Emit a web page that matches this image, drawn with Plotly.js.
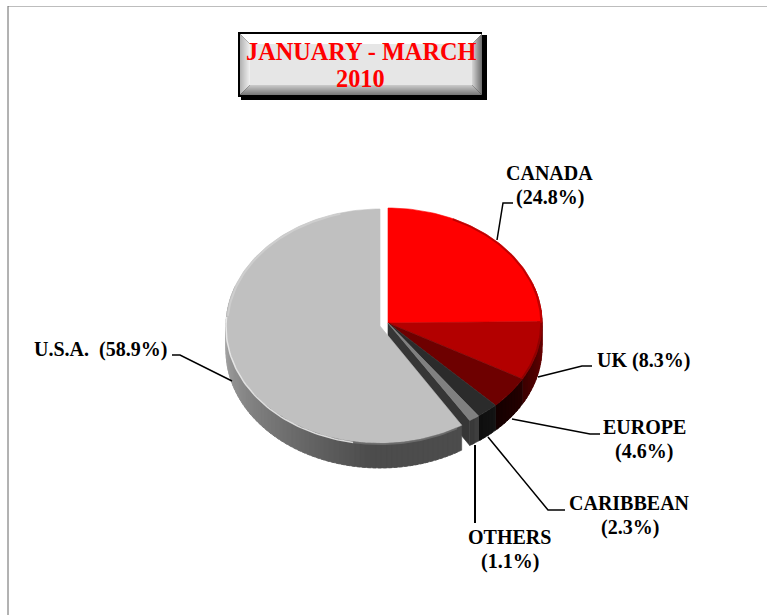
<!DOCTYPE html>
<html><head><meta charset="utf-8">
<script src="https://cdn.plot.ly/plotly-3.0.1.min.js"></script>
<style>html,body{margin:0;padding:0;background:#fff}#c{width:767px;height:615px}</style>
</head><body><div id="c"></div>
<script>
var categories = ["CANADA","UK","EUROPE","CARIBBEAN","OTHERS","U.S.A."];
var shares = [24.8,8.3,4.6,2.3,1.1,58.9];
var topColors = ["#ff0000","#b30000","#6e0000","#2b2b2b","#808080","#c0c0c0"];
var wallLight = ["#b00000","#700000","#260000","#141414","#404040","#b8b8b8"];
var wallDark = ["#6a0000","#3c0000","#140000","#0e0e0e","#363636","#4c4c4c"];
var labelTexts = ["CANADA<br>(24.8%)","UK (8.3%)","EUROPE<br>(4.6%)","CARIBBEAN<br>(2.3%)","OTHERS<br>(1.1%)","U.S.A.  (58.9%)"];
var titleText = "JANUARY - MARCH<br>2010";

var cx=388, cy=323, rx=154, ry=115, usaRy=117, depth=25, usaDx=-8, usaDy=3;
function pt(a,ox,oy,dz,s){s=s||1;var r=a*Math.PI/180,h=ox?usaRy:ry;return [cx+ox+s*rx*Math.sin(r), cy+oy-s*h*Math.cos(r)+dz];}
function hex(c){return [1,3,5].map(function(i){return parseInt(c.substr(i,2),16);});}
function mix(a,b,t){var A=hex(a),B=hex(b);return "rgb("+A.map(function(v,i){return Math.round(v+(B[i]-v)*t);}).join(",")+")";}
function poly(pts,color){return {type:"scatter",mode:"lines",x:pts.map(function(p){return p[0];}).concat(pts[0][0]),y:pts.map(function(p){return p[1];}).concat(pts[0][1]),fill:"toself",fillcolor:color,line:{color:color,width:0.6},hoverinfo:"skip",showlegend:false};}
function arc(a0,a1,ox,oy,dz,s){var n=Math.max(2,Math.ceil(Math.abs(a1-a0)/1.5)),o=[];for(var i=0;i<=n;i++)o.push(pt(a0+(a1-a0)*i/n,ox,oy,dz,s));return o;}
function curve(a0,a1,ox,oy,dz,s,color,w){var p=arc(a0,a1,ox,oy,dz,s);return {type:"scatter",mode:"lines",x:p.map(function(q){return q[0];}),y:p.map(function(q){return q[1];}),line:{color:color,width:w},hoverinfo:"skip",showlegend:false};}

var traces=[], ang=0, spans=[];
shares.forEach(function(v){var a=v/100*360;spans.push([ang,ang+a]);ang+=a;});
function offs(i){return i==5?[usaDx,usaDy]:[0,0];}
// side walls
[0,1,2,3,4,5].forEach(function(i){
  var o=offs(i),a0=i==0?70:spans[i][0],a1=i==5?290:spans[i][1];
  if(i==4){
    var p=pt(spans[i][1],0,0,0);
    traces.push(poly([[cx,cy],p,[p[0],p[1]+depth],[cx,cy+depth]],wallDark[i]));
  }
  var strips=Math.max(1,Math.ceil((a1-a0)/2));
  for(var k=0;k<strips;k++){
    var b0=a0+(a1-a0)*k/strips,b1=a1-(a1-a0)*(strips-k-1)/strips;
    if(k<strips-1)b1+=(a1-a0)/strips*0.6;
    var t=(k+0.5)/strips;
    if(i==5)t=Math.min(1,(1-t)/0.75);
    var pts=arc(b0,b1,o[0],o[1],0).concat(arc(b1,b0,o[0],o[1],depth));
    traces.push(poly(pts,mix(wallLight[i],wallDark[i],t)));
  }
});
// top faces
[0,1,2,3,4,5].forEach(function(i){
  var o=offs(i);
  traces.push(poly([[cx+o[0],cy+o[1]]].concat(arc(spans[i][0],spans[i][1],o[0],o[1],0)),topColors[i]));
});
// soft rims
traces.push(curve(190,275,usaDx,usaDy,1.2,1,"rgba(240,240,240,0.85)",1.5));
traces.push(curve(150,190,usaDx,usaDy,1,1,"rgba(120,120,120,0.7)",2));
traces.push(curve(275,345,usaDx,usaDy,0,0.992,"rgba(215,215,215,0.6)",2));
traces.push(curve(25,89,0,0,0,0.995,"rgba(165,0,0,0.7)",2));
traces.push(curve(90,119,0,0,0,0.995,"rgba(120,0,0,0.6)",2));

function seg(pts,w){var d="M"+pts.map(function(p){return p.join(",");}).join("L");return {type:"path",xref:"x",yref:"y",path:d,line:{color:"#000",width:w||1.5},layer:"above"};}
function rect(x0,y0,x1,y1,c){return {type:"rect",xref:"x",yref:"y",x0:x0,y0:y0,x1:x1,y1:y1,fillcolor:c,line:{width:0},layer:"below"};}
function quad(p,c){return {type:"path",xref:"x",yref:"y",path:"M"+p.map(function(q){return q.join(",");}).join("L")+"Z",fillcolor:c,line:{width:0},layer:"below"};}
var shapes=[
 {type:"line",xref:"x",yref:"y",x0:8,y0:6.5,x1:767,y1:6.5,line:{color:"#bdbdbd",width:1}},
 {type:"line",xref:"x",yref:"y",x0:8,y0:6,x1:8,y1:615,line:{color:"#666",width:1}},
 rect(241,35,487,100,"#000"),
 rect(238,32,482,97,"#000"),
 seg([[497,240],[503,203],[513,203]]),
 seg([[538,377],[582,366],[592,366]]),
 seg([[512,419],[590,434],[600,434]]),
 seg([[488,437],[548,510],[565,510]]),
 seg([[475,445],[475,523]],2),
 seg([[232,381],[180,355],[172,355]])
];
// title plate bevel, outer ring to inner ring
var rings=10, L=240, T=34, R=482, B=95;
for(var r=0;r<rings;r++){
  var t=r/rings, l0=L+r, t0=T+r, r0=R-r, b0=B-r, l1=l0+1, t1=t0+1, r1=r0-1, b1=b0-1;
  shapes.push(quad([[l0,t0],[r0,t0],[r1,t1],[l1,t1]],"#ffffff"));
  shapes.push(quad([[l0,t0],[l1,t1],[l1,b1],[l0,b0]],mix("#b4b4b4","#f4f4f4",t)));
  shapes.push(quad([[r0,t0],[r1,t1],[r1,b1],[r0,b0]],mix("#707070","#dcdcdc",t)));
  shapes.push(quad([[l0,b0],[l1,b1],[r1,b1],[r0,b0]],mix("#7a7a7a","#cfcfcf",t)));
}
shapes.push(rect(L+rings,T+rings,R-rings,B-rings,"#e6e6e6"));

var labelX=[549.5,643,644,629.5,509.5,100.5];
var labelY=[172.5,360,427,503,537,349];
var lineGap=24.5;
var annotations=[];
labelTexts.forEach(function(t,i){t.split("<br>").forEach(function(s,j){
  annotations.push({x:labelX[i],y:labelY[i]+j*lineGap,xref:"x",yref:"y",text:"<b>"+s+"</b>",showarrow:false,font:{family:"Liberation Serif",size:20,color:"#000"}});
});});
titleText.split("<br>").forEach(function(s,j){
  annotations.push({x:360.5,y:51+j*27,xref:"x",yref:"y",text:"<b>"+s+"</b>",showarrow:false,font:{family:"Liberation Serif",size:24.3,color:"#ff0000"}});
});

Plotly.newPlot("c",traces,{width:767,height:615,margin:{l:0,r:0,t:0,b:0},paper_bgcolor:"#fff",plot_bgcolor:"#fff",showlegend:false,
 xaxis:{range:[0,767],visible:false,fixedrange:true},yaxis:{range:[615,0],visible:false,fixedrange:true},shapes:shapes,annotations:annotations},{staticPlot:true});
</script></body></html>
